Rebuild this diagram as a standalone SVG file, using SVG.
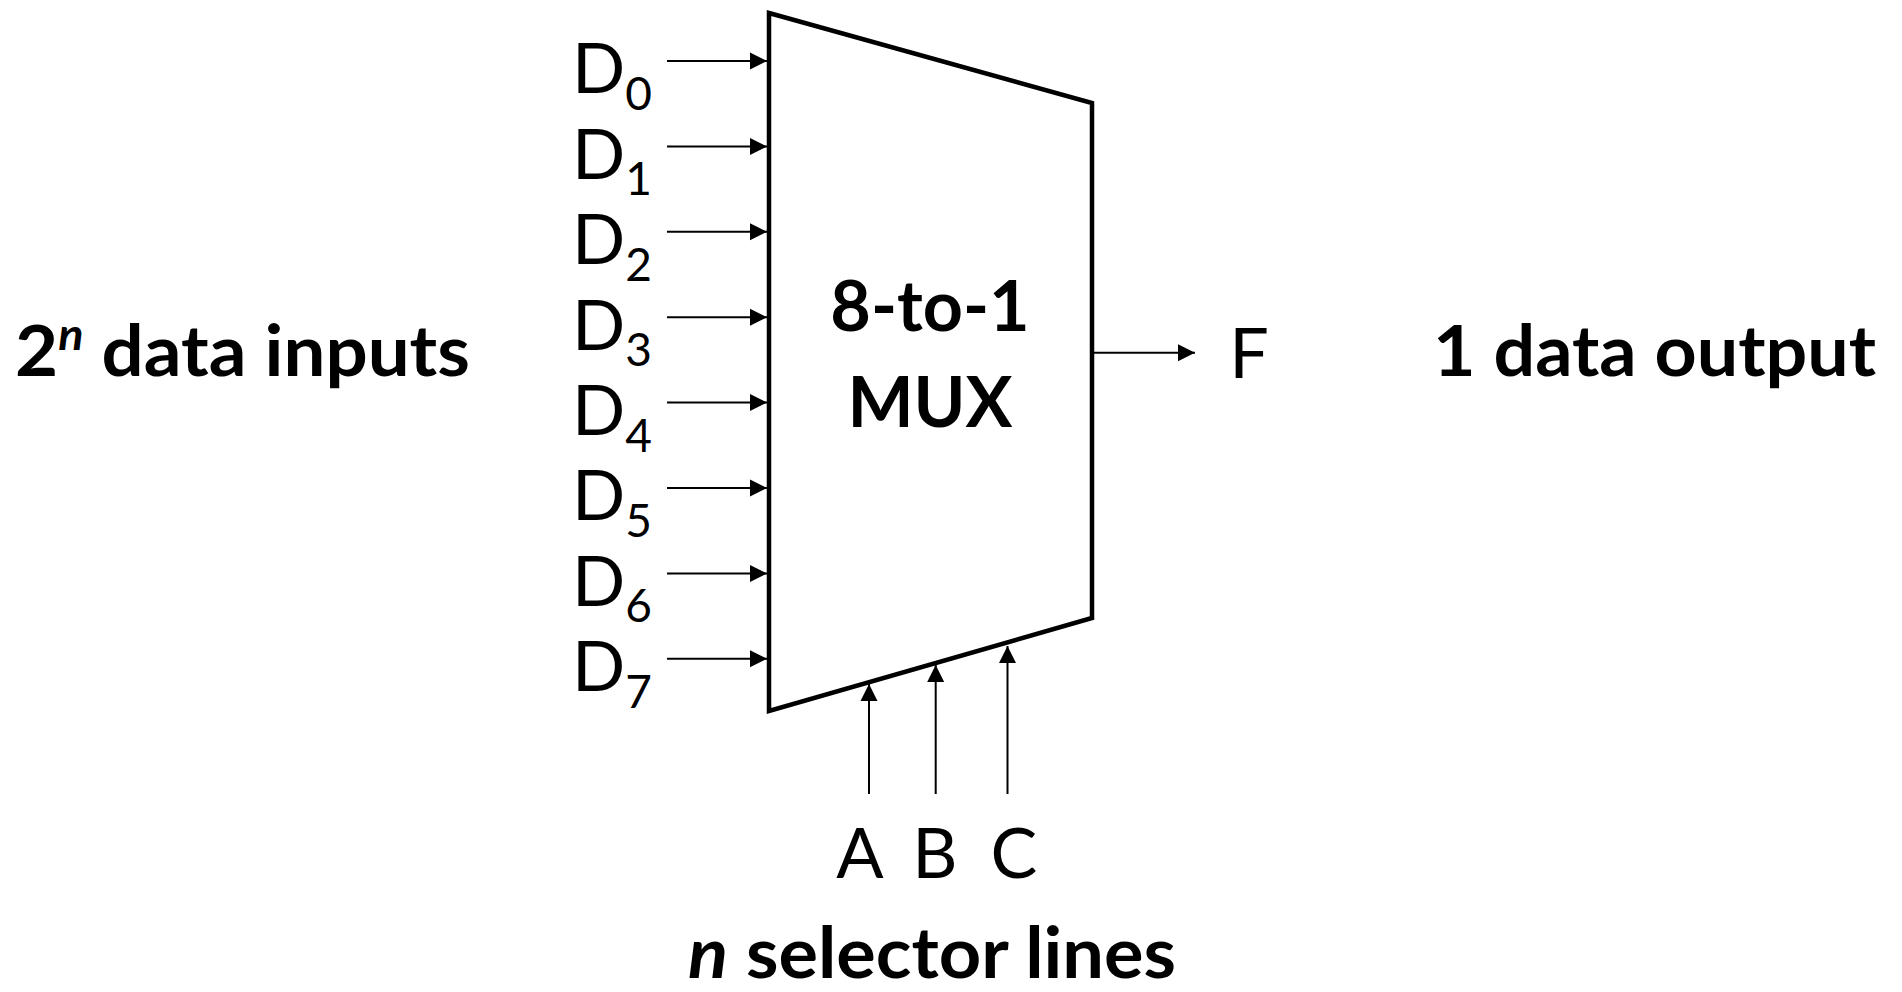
<svg xmlns="http://www.w3.org/2000/svg" width="1902" height="992" viewBox="0 0 1902 992">
<style>
.bold{font-family:Lato,"Liberation Sans",sans-serif;font-weight:700;font-size:70px;fill:#000}
.reg{font-family:Lato,"Liberation Sans",sans-serif;font-weight:400;font-size:70px;fill:#000}
.sub{font-size:46px}
.wire{stroke:#000;stroke-width:2;fill:none;marker-end:url(#arr)}
</style>
<defs>
<marker id="arr" markerUnits="userSpaceOnUse" markerWidth="18" markerHeight="18" viewBox="0 0 18 18" refX="17" refY="9" orient="auto">
<path d="M0,0.5 L17,9 L0,17.5 Z" fill="#000"/>
</marker>
</defs>
<rect width="1902" height="992" fill="#fff"/>
<g id="mux">
<polygon points="769,13 1092,103 1092,618 769,711" fill="#fff" stroke="#000" stroke-width="4.5" stroke-linejoin="miter"/>
<text class="bold" x="930" y="331" text-anchor="middle">8-to-1</text>
<text class="bold" x="930" y="427" text-anchor="middle">MUX</text>
</g>
<g id="connectors">
<line class="wire" x1="667" y1="61" x2="767" y2="61"/>
<line class="wire" x1="667" y1="146.4" x2="767" y2="146.4"/>
<line class="wire" x1="667" y1="231.8" x2="767" y2="231.8"/>
<line class="wire" x1="667" y1="317.2" x2="767" y2="317.2"/>
<line class="wire" x1="667" y1="402.6" x2="767" y2="402.6"/>
<line class="wire" x1="667" y1="488" x2="767" y2="488"/>
<line class="wire" x1="667" y1="573.4" x2="767" y2="573.4"/>
<line class="wire" x1="667" y1="658.8" x2="767" y2="658.8"/>
<line class="wire" x1="1092" y1="352.7" x2="1195" y2="352.7"/>
<line class="wire" x1="869" y1="794" x2="869" y2="684"/>
<line class="wire" x1="935.7" y1="794" x2="935.7" y2="665"/>
<line class="wire" x1="1007.5" y1="794" x2="1007.5" y2="646"/>
</g>
<g id="inputs">
<text class="reg" x="572" y="93.3">D<tspan class="sub" dy="16.7">0</tspan></text>
<text class="reg" x="572" y="178.7">D<tspan class="sub" dy="16.7">1</tspan></text>
<text class="reg" x="572" y="264.1">D<tspan class="sub" dy="16.7">2</tspan></text>
<text class="reg" x="572" y="349.5">D<tspan class="sub" dy="16.7">3</tspan></text>
<text class="reg" x="572" y="434.9">D<tspan class="sub" dy="16.7">4</tspan></text>
<text class="reg" x="572" y="520.3">D<tspan class="sub" dy="16.7">5</tspan></text>
<text class="reg" x="572" y="605.7">D<tspan class="sub" dy="16.7">6</tspan></text>
<text class="reg" x="572" y="691.1">D<tspan class="sub" dy="16.7">7</tspan></text>
</g>
<g id="output">
<text class="reg" x="1249" y="378" text-anchor="middle">F</text>
</g>
<g id="selectors">
<text class="reg" x="860" y="878" text-anchor="middle">A</text>
<text class="reg" x="935" y="878" text-anchor="middle">B</text>
<text class="reg" x="1014" y="878" text-anchor="middle">C</text>
</g>
<g id="captions">
<text class="bold" x="15" y="376" textLength="455" lengthAdjust="spacingAndGlyphs">2<tspan font-style="italic" font-size="44px" dy="-26">n</tspan><tspan dy="26"> data inputs</tspan></text>
<text class="bold" x="1433" y="376" textLength="443" lengthAdjust="spacingAndGlyphs">1 data output</text>
<text class="bold" x="688" y="978" textLength="488" lengthAdjust="spacingAndGlyphs"><tspan font-style="italic">n</tspan> selector lines</text>
</g>
</svg>
